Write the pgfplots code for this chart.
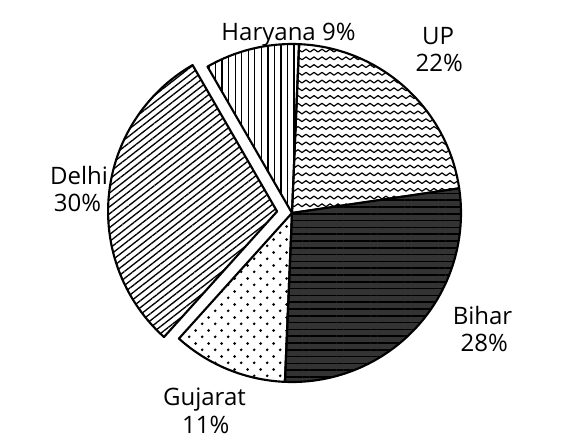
\documentclass[border=0pt]{standalone}
\usepackage{fontspec}
\setmainfont{Open Sans}
\usepackage{pgfplots}
\usepackage{pgfplotstable}
\pgfplotsset{compat=1.18}
\usetikzlibrary{patterns,patterns.meta}

% slice shares (percent) as printed on the chart; explode = pulled out
\pgfplotstableread{
name    pct explode
Haryana 9   0
UP      22  0
Bihar   28  0
Gujarat 11  0
Delhi   30  1
}\piedata

\tikzdeclarepattern{
  name=mywaves, type=uncolored,
  bounding box={(-0.3pt,-2pt) and (6.3pt,2pt)},
  tile size={(6pt,5.8pt)},
  code={\draw[line width=0.9pt] (0,0) sin (1.5pt,1.05pt) cos (3pt,0pt) sin (4.5pt,-1.05pt) cos (6pt,0pt);}
}
\tikzdeclarepattern{
  name=mydots, type=uncolored,
  bounding box={(0,0) and (10pt,10pt)},
  tile size={(10pt,10pt)},
  code={\fill (2.5pt,2.5pt) circle (1.15pt); \fill (7.5pt,7.5pt) circle (1.15pt);}
}

\tikzset{
  slice/.style={draw=black, line width=1.6pt, line join=round},
  slice0/.style={pattern={Lines[angle=90,distance=4.9pt,line width=1pt]}},
  slice1/.style={pattern=mywaves},
  slice2/.style={preaction={fill=black!80}, pattern={Lines[angle=0,distance=5.1pt,line width=1.2pt]}},
  slice3/.style={pattern=mydots},
  slice4/.style={pattern={Lines[angle=38,distance=4.1pt,line width=1pt]}},
  lbl/.style={anchor=base, inner sep=0pt, font=\fontsize{18pt}{20pt}\selectfont},
}

\begin{document}
\begin{tikzpicture}
\begin{axis}[
    hide axis,
    scale only axis,
    width=435pt, height=333.75pt,
    xmin=0, xmax=580, ymin=0, ymax=445,
    clip=false,
  ]
  \path (axis cs:0,0) rectangle (axis cs:580,445);
  \def\cum{0}
  \pgfplotsinvokeforeach{0,...,4}{
    \pgfplotstablegetelem{#1}{pct}\of\piedata
    \edef\p{\pgfplotsretval}
    \pgfplotstablegetelem{#1}{explode}\of\piedata
    \edef\ex{\pgfplotsretval}
    \pgfmathsetmacro\a{120-3.6*\cum}
    \pgfmathsetmacro\cumnew{\cum+\p}
    \pgfmathsetmacro\b{120-3.6*\cumnew}
    \pgfmathsetmacro\m{(\a+\b)/2}
    \pgfmathsetmacro\d{11.25*\ex}
    \xdef\cum{\cumnew}
    \edef\doit{\noexpand\draw[slice,slice#1] (axis cs:292,232) ++(\m:\d pt)
      -- ++(\a:126.75pt) arc[start angle=\a, end angle=\b, radius=126.75pt] -- cycle;}
    \doit
  }
  \node[lbl] at (axis cs:288.5,404.3) {Haryana 9\%};
  \node[lbl] at (axis cs:438,400) {UP};
  \node[lbl] at (axis cs:439.3,373.3) {22\%};
  \node[lbl] at (axis cs:79,260.7) {Delhi};
  \node[lbl] at (axis cs:77.5,234) {30\%};
  \node[lbl] at (axis cs:482.5,120.7) {Bihar};
  \node[lbl] at (axis cs:484.3,93.3) {28\%};
  \node[lbl] at (axis cs:204.5,39.3) {Gujarat};
  \node[lbl] at (axis cs:205.8,11.7) {11\%};
\end{axis}
\pgfresetboundingbox
\useasboundingbox (current axis.south west) rectangle (current axis.north east);
\end{tikzpicture}
\end{document}
